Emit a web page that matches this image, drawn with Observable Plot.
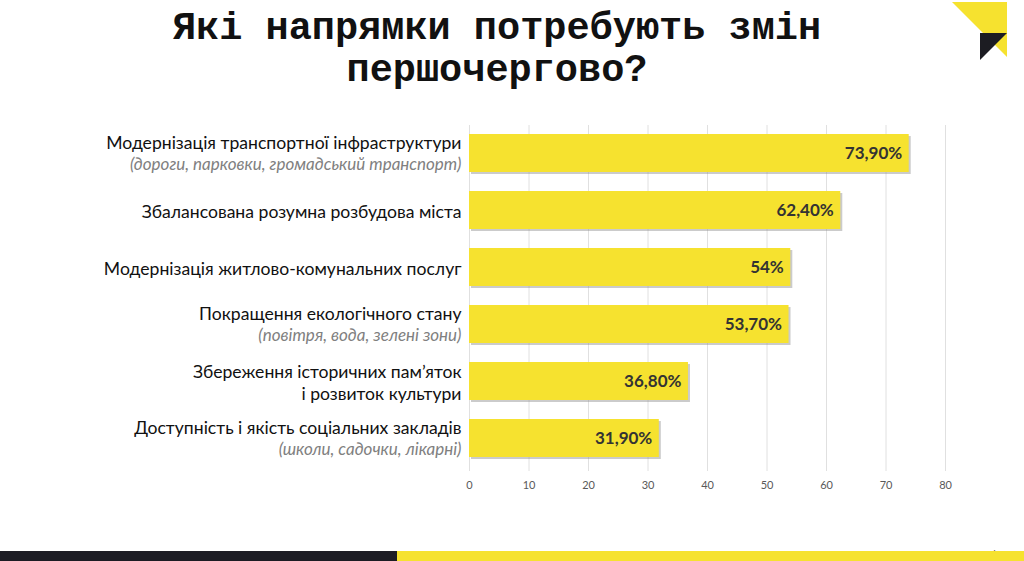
<!DOCTYPE html>
<html>
<head>
<meta charset="utf-8">
<script src="https://cdn.jsdelivr.net/npm/d3@7"></script>
<script src="https://cdn.jsdelivr.net/npm/@observablehq/plot@0.6"></script>
<style>
  html, body { margin: 0; padding: 0; background: #fff; overflow: hidden; }
  #page { position: relative; width: 1024px; height: 561px; overflow: hidden; background: #fff; }
  #title { position: absolute; left: 0; top: 8px; width: 994px; text-align: center;
    font-family: "Liberation Mono", "DejaVu Sans Mono", monospace; font-weight: bold;
    font-size: 38.6px; line-height: 42px; color: #111; }
  #chart { position: absolute; left: 0; top: 100px; }
  #logo { position: absolute; left: 0; top: 0; }
  .strip { position: absolute; bottom: 0; height: 10px; }
</style>
</head>
<body>
<div id="page">
  <div id="title">Які напрямки потребують змін<br>першочергово?</div>
  <svg id="logo" width="1024" height="70">
    <polygon points="952,2 1007,2 1007,57" fill="#f6e22f"/>
    <polygon points="980,33 1007,33 980,60" fill="#1c1c22"/>
  </svg>
  <div id="chart"></div>
  <div class="strip" style="left:0;width:397px;background:#1c1c24;"></div>
  <div class="strip" style="left:397px;width:627px;background:#f6e22f;"></div>
</div>
<script>
const categories = [
  "Модернізація транспортної інфраструктури",
  "Збалансована розумна розбудова міста",
  "Модернізація житлово-комунальних послуг",
  "Покращення екологічного стану",
  "Збереження історичних пам’яток\nі розвиток культури",
  "Доступність і якість соціальних закладів"
];
const notes = [
  "(дороги, парковки, громадський транспорт)",
  "",
  "",
  "(повітря, вода, зелені зони)",
  "",
  "(школи, садочки, лікарні)"
];
const values = [73.9, 62.4, 54, 53.7, 36.8, 31.9];
const xTicks = [0, 10, 20, 30, 40, 50, 60, 70, 80];

const rows = categories.map((c, i) => ({name: c, note: notes[i], value: values[i]}));
const fmt = v => (Number.isInteger(v) ? String(v) : v.toFixed(2).replace(".", ",")) + "%";
const FONT = "Lato, 'Open Sans', sans-serif";

const chart = Plot.plot({
  width: 1024,
  height: 461,
  marginLeft: 469,
  marginRight: 79,
  marginTop: 25,
  marginBottom: 94,
  style: {fontFamily: FONT, background: "transparent"},
  x: {domain: [0, 80], ticks: xTicks},
  y: {domain: categories, paddingInner: 0.33, paddingOuter: 0.15, axis: null},
  marks: [
    Plot.ruleX(xTicks, {stroke: "#e0e0e0", strokeWidth: 1}),
    Plot.axisX({ticks: xTicks, tickSize: 4, tickPadding: 10, stroke: "#e0e0e0", color: "#595959", fontSize: 11, tickFormat: d => String(d)}),
    Plot.barX(rows, {x: "value", y: "name", fill: "#8c8c8c", fillOpacity: 0.45, dx: 2, dy: 2}),
    Plot.barX(rows, {x: "value", y: "name", fill: "#f6e22f"}),
    Plot.text(rows, {x: "value", y: "name", text: d => fmt(d.value), textAnchor: "end", dx: -7,
      fill: "#333333", fontWeight: "bold", fontSize: 17}),
    Plot.text(rows.filter(d => d.note), {x: 0, y: "name", text: "name", textAnchor: "end", dx: -8, dy: -10,
      fill: "#111", fontSize: 17.6}),
    Plot.text(rows.filter(d => d.note), {x: 0, y: "name", text: "note", textAnchor: "end", dx: -8, dy: 11,
      fill: "#808080", fontSize: 17, fontStyle: "italic"}),
    Plot.text(rows.filter(d => !d.note), {x: 0, y: "name", text: "name", textAnchor: "end", dx: -8,
      fill: "#111", fontSize: 17.6, lineHeight: 1.25})
  ]
});
document.getElementById("chart").appendChild(chart);
</script>
</body>
</html>
